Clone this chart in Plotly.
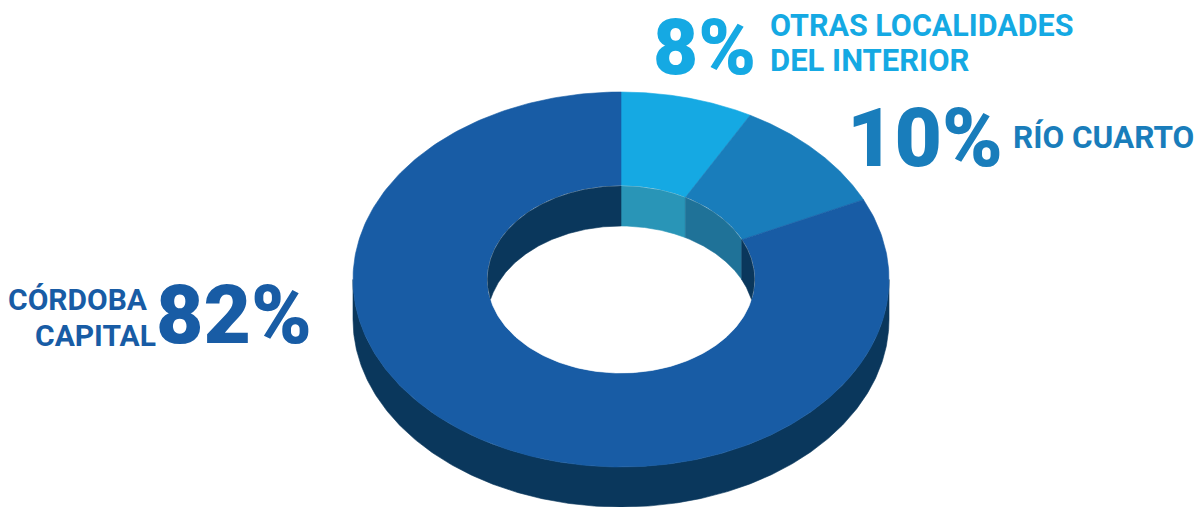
import numpy as np
import plotly.graph_objects as go

categories = ["OTRAS LOCALIDADES DEL INTERIOR", "RÍO CUARTO", "CÓRDOBA CAPITAL"]
values = [8, 10, 82]
top_colors = ["#15A9E3", "#197DBB", "#185CA5"]
wall_colors = ["#2995B7", "#1F7298", "#0A375C"]
pct_labels = ["8%", "10%", "82%"]

CX, CY, RX, RY = 621, 279.5, 268, 187.5
IRX, IRY = 133.5, 93.5
DEPTH = 40
TEXT_FONT = "Roboto"


def arc(a0, a1, n=160):
    return np.radians(np.linspace(a0, a1, n))


def poly(fig, x, y, color, name):
    fig.add_trace(go.Scatter(
        x=np.r_[x, x[:1]], y=np.r_[y, y[:1]], mode="lines", fill="toself",
        fillcolor=color, line=dict(color=color, width=0.6),
        hoverinfo="text", text=name, showlegend=False))


fig = go.Figure()
edges = np.r_[0, np.cumsum(values)] / np.sum(values) * 360

# outer side wall (front half)
t = arc(90, 270, 300)
x = CX + RX * np.sin(t)
y = CY - RY * np.cos(t)
poly(fig, np.r_[x, x[::-1]], np.r_[y, (y + DEPTH)[::-1]], wall_colors[2], categories[2])

# top face
for i, cat in enumerate(categories):
    t = arc(edges[i], edges[i + 1], 300)
    xo = CX + RX * np.sin(t)
    yo = CY - RY * np.cos(t)
    xi = CX + IRX * np.sin(t)
    yi = CY - IRY * np.cos(t)
    poly(fig, np.r_[xo, xi[::-1]], np.r_[yo, yi[::-1]], top_colors[i], cat)

# white hole
t = arc(0, 360, 400)
poly(fig, CX + IRX * np.sin(t), CY - IRY * np.cos(t), "#FFFFFF", "")

# inner wall (back half of hole), split by slice
for i, cat in enumerate(categories):
    ranges = [(edges[i], min(edges[i + 1], 90))] if edges[i] < 90 else []
    if edges[i + 1] > 270:
        ranges.append((max(edges[i], 270), edges[i + 1]))
    for a0, a1 in ranges:
        t = arc(a0, a1, 200)
        x = CX + IRX * np.sin(t)
        up = CY - IRY * np.cos(t)
        low = np.minimum(up + DEPTH, CY + IRY * np.cos(t))
        poly(fig, np.r_[x, x[::-1]], np.r_[up, low[::-1]], wall_colors[i], cat)

# texts: (text, x, y, xanchor, size, colour, weight)
labels = [
    (pct_labels[0], 758, 47, "right", 78, top_colors[0], 900),
    ("OTRAS LOCALIDADES", 768, 25, "left", 30.5, top_colors[0], 700),
    ("DEL INTERIOR", 768, 60, "left", 31, top_colors[0], 700),
    (pct_labels[1], 1005, 138, "right", 82, top_colors[1], 900),
    ("RÍO CUARTO", 1011, 137, "left", 31.5, top_colors[1], 700),
    ("CÓRDOBA", 150, 299, "right", 30, top_colors[2], 700),
    ("CAPITAL", 158, 335, "right", 30, top_colors[2], 700),
    (pct_labels[2], 314, 315, "right", 82, top_colors[2], 900),
]
for txt, x, y, anchor, size, col, weight in labels:
    fig.add_annotation(x=x, y=y, text=txt, showarrow=False, xanchor=anchor, yanchor="middle",
                       font=dict(family=TEXT_FONT, size=size, color=col, weight=weight))

fig.update_layout(
    width=1203, height=507, margin=dict(l=0, r=0, t=0, b=0),
    paper_bgcolor="white", plot_bgcolor="white", showlegend=False,
    xaxis=dict(range=[0, 1203], visible=False, fixedrange=True),
    yaxis=dict(range=[507, 0], visible=False, fixedrange=True),
)
fig.write_html("out.html", config=dict(displayModeBar=False),
               post_script="document.body.style.margin='0';document.body.style.overflow='hidden';")
